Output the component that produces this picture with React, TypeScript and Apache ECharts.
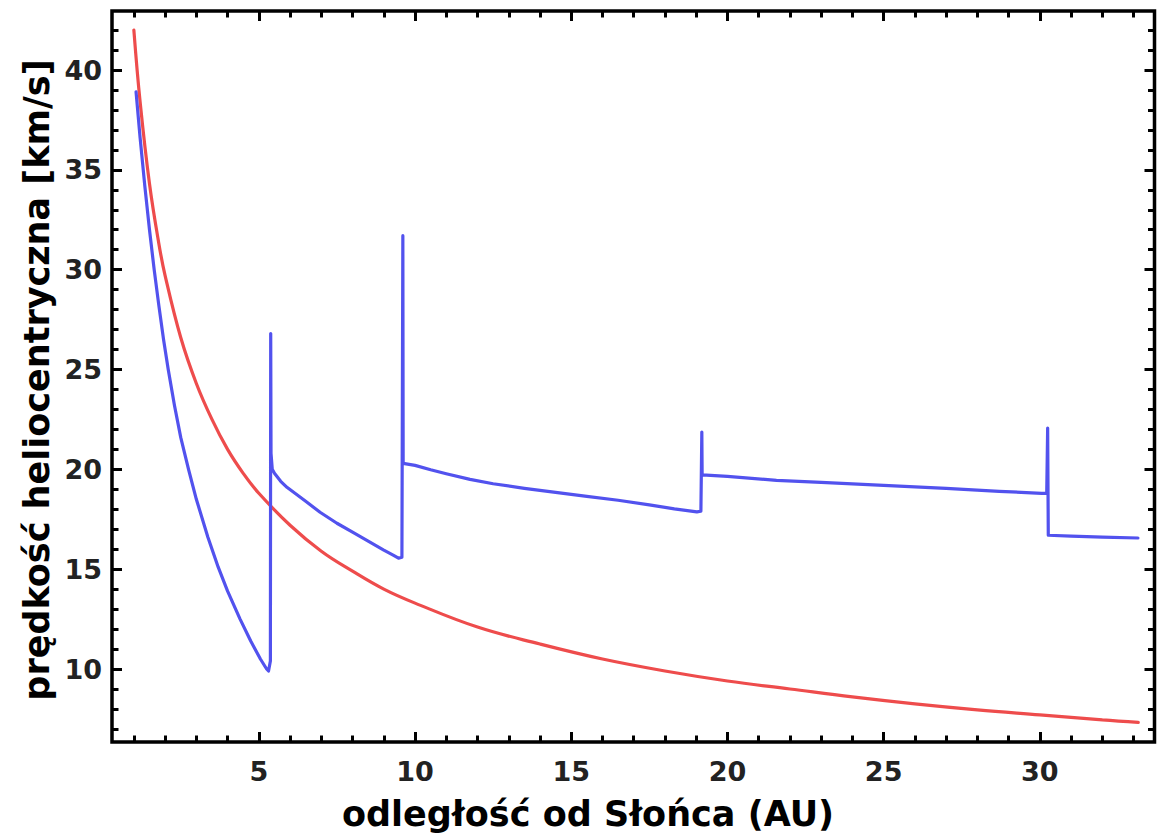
import React, { useEffect, useRef } from "react";
import * as echarts from "echarts";

// Escape-velocity curve (red)
const redDistance = [1.0, 1.2, 1.5, 1.8, 2.0, 2.5, 3.0, 3.5, 4.0, 4.5, 5.0, 6.0, 7.0, 8.0, 9.0, 10, 12, 14, 16, 18, 20, 22, 24, 26, 28, 30, 32, 33.15];
const redSpeed = [42.0, 38.4, 34.3, 31.3, 29.7, 26.6, 24.3, 22.5, 21.0, 19.8, 18.8, 17.2, 15.9, 14.9, 14.0, 13.3, 12.1, 11.25, 10.5, 9.9, 9.4, 9.0, 8.6, 8.25, 7.95, 7.7, 7.45, 7.33];

// Spacecraft heliocentric speed (blue)
const blueDistance = [
  1.07, 1.2, 1.35, 1.5, 1.65, 1.8, 1.95, 2.1, 2.3, 2.5, 2.75, 3.0, 3.37, 3.7, 4.0, 4.4, 4.74, 5.05, 5.25, 5.31,
  5.37, 5.38, 5.39, 5.43, 5.5, 5.7, 5.9, 6.2, 6.5, 6.96, 7.5, 8.0, 8.5, 9.0, 9.3, 9.47,
  9.58, 9.61, 9.62, 10.0, 10.5, 11.0, 11.76, 12.5, 13.5, 14.5, 15.5, 16.5, 17.5, 18.3, 19.02,
  19.15, 19.18, 19.19, 20, 21.57, 23, 25, 27, 28.7, 30.06, 30.22,
  30.25, 30.27, 31, 32, 33.14,
];
const blueSpeed = [
  38.9, 36.6, 34.2, 32.0, 30.0, 28.2, 26.5, 25.0, 23.2, 21.6, 20.0, 18.5, 16.6, 15.1, 13.9, 12.5, 11.4, 10.5, 10.0, 9.9,
  10.4, 26.8, 20.8, 20.0, 19.8, 19.4, 19.1, 18.75, 18.4, 17.85, 17.3, 16.85, 16.4, 15.95, 15.7, 15.55,
  15.6, 31.7, 20.3, 20.2, 19.98, 19.78, 19.5, 19.28, 19.05, 18.85, 18.65, 18.45, 18.22, 18.02, 17.87,
  17.9, 21.87, 19.72, 19.65, 19.45, 19.35, 19.2, 19.05, 18.9, 18.8, 18.8,
  22.07, 16.7, 16.65, 16.6, 16.56,
];

const xMajorTicks = [5, 10, 15, 20, 25, 30];
const xMinorTicks = [1, 2, 3, 4, 5, 6, 7, 8, 9, 10, 11, 12, 13, 14, 15, 16, 17, 18, 19, 20, 21, 22, 23, 24, 25, 26, 27, 28, 29, 30, 31, 32, 33];
const yMajorTicks = [10, 15, 20, 25, 30, 35, 40];
const yMinorTicks = [7, 8, 9, 10, 11, 12, 13, 14, 15, 16, 17, 18, 19, 20, 21, 22, 23, 24, 25, 26, 27, 28, 29, 30, 31, 32, 33, 34, 35, 36, 37, 38, 39, 40, 41, 42];

const xTitle = "odległość od Słońca (AU)";
const yTitle = "prędkość heliocentryczna [km/s]";

const X_MIN = 0.3;
const X_MAX = 33.67;
const Y_MIN = 6.344;
const Y_MAX = 42.955;

const FONT = "DejaVu Sans";

function makeAxis(
  kind: "x" | "y",
  position: string,
  ticks: number[],
  len: number,
  labels: boolean
) {
  const isX = kind === "x";
  return {
    type: "value",
    position,
    min: isX ? X_MIN : Y_MIN,
    max: isX ? X_MAX : Y_MAX,
    axisLine: { show: false },
    splitLine: { show: false },
    axisTick: {
      show: true,
      inside: true,
      length: len,
      customValues: ticks,
      lineStyle: { color: "#000", width: 3 },
    },
    axisLabel: labels
      ? {
          show: true,
          customValues: ticks,
          margin: isX ? 16 : 10,
          fontFamily: FONT,
          fontWeight: "bold",
          fontSize: 27,
          color: "#222",
        }
      : { show: false },
  };
}

export default function App() {
  const ref = useRef<HTMLDivElement>(null);

  useEffect(() => {
    if (!ref.current) return;
    const chart = echarts.init(ref.current, null, { renderer: "svg" });
    const red = redDistance.map((d, i) => [d, redSpeed[i]]);
    const blue = blueDistance.map((d, i) => [d, blueSpeed[i]]);
    chart.setOption({
      animation: false,
      backgroundColor: "#fff",
      grid: {
        left: 112,
        right: 6.5,
        top: 11,
        bottom: 97,
        show: true,
        borderColor: "#000",
        borderWidth: 3.5,
        backgroundColor: "transparent",
      },
      xAxis: [
        makeAxis("x", "bottom", xMajorTicks, 10, true),
        makeAxis("x", "bottom", xMinorTicks, 6.5, false),
        makeAxis("x", "top", xMajorTicks, 10, false),
        makeAxis("x", "top", xMinorTicks, 6.5, false),
      ],
      yAxis: [
        makeAxis("y", "left", yMajorTicks, 10, true),
        makeAxis("y", "left", yMinorTicks, 6.5, false),
        makeAxis("y", "right", yMajorTicks, 10, false),
        makeAxis("y", "right", yMinorTicks, 6.5, false),
      ],
      series: [
        {
          type: "line",
          name: "blue",
          data: blue,
          xAxisIndex: 0,
          yAxisIndex: 0,
          showSymbol: false,
          smooth: false,
          lineStyle: { color: "#5252ee", width: 3.2, join: "round", cap: "round" },
          z: 3,
        },
        {
          type: "line",
          name: "red",
          data: red,
          xAxisIndex: 0,
          yAxisIndex: 0,
          showSymbol: false,
          smooth: 0.4,
          lineStyle: { color: "#ee4c4c", width: 3.2, cap: "round" },
          z: 2,
        },
      ],
      graphic: [
        {
          type: "text",
          x: 588,
          y: 814,
          style: {
            text: xTitle,
            fontFamily: FONT,
            fontWeight: "bold",
            fontSize: 35,
            fill: "#000",
            align: "center",
            verticalAlign: "middle",
          },
        },
        {
          type: "text",
          x: 37,
          y: 380,
          rotation: Math.PI / 2,
          style: {
            text: yTitle,
            fontFamily: FONT,
            fontWeight: "bold",
            fontSize: 35,
            fill: "#000",
            align: "center",
            verticalAlign: "middle",
          },
        },
      ],
    });
    return () => chart.dispose();
  }, []);

  return (
    <div
      ref={ref}
      style={{ position: "fixed", left: 0, top: 0, width: 1161, height: 839, background: "#fff" }}
    />
  );
}
